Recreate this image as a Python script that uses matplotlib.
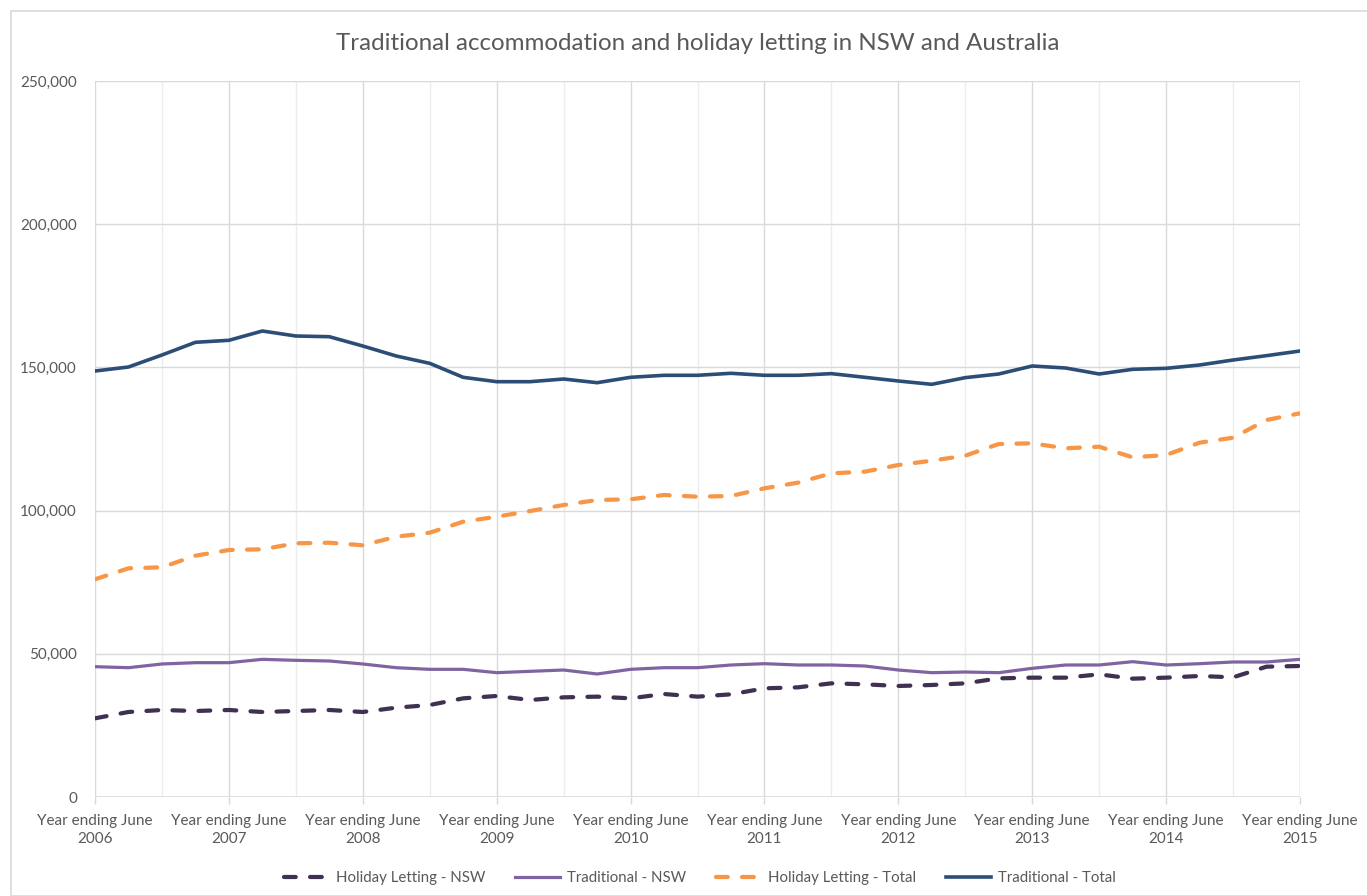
import matplotlib
matplotlib.use("Agg")
import matplotlib.pyplot as plt
from matplotlib.patches import Rectangle
from matplotlib.ticker import FuncFormatter, MultipleLocator
import numpy as np

plt.rcParams['font.family'] = ['Lato', 'DejaVu Sans']

years = ['2006', '2007', '2008', '2009', '2010', '2011', '2012', '2013', '2014', '2015']

holiday_nsw = [27470, 29680, 30380, 30030, 30380, 29680, 30030, 30380, 29680, 31190,
               32120, 34450, 35270, 33870, 34800, 35040, 34450, 35960, 35040, 35850,
               37940, 38290, 39690, 39340, 38760, 39110, 39690, 41430, 41670, 41670,
               42830, 41320, 41670, 42250, 41790, 45500, 45740]

traditional_nsw = [45500, 45150, 46440, 46900, 46900, 48070, 47720, 47490, 46440, 45150,
                   44580, 44580, 43410, 43880, 44340, 42950, 44580, 45150, 45150, 46090,
                   46550, 46090, 46090, 45740, 44340, 43410, 43640, 43410, 44930, 46090,
                   46090, 47250, 46090, 46550, 47140, 47140, 48070]

holiday_total = [76010, 79850, 80200, 84250, 86240, 86480, 88580, 88790, 87880, 90890,
                 92280, 96130, 97870, 99860, 101950, 103700, 103940, 105450, 104860, 105100,
                 107780, 109750, 113010, 113590, 115920, 117430, 119180, 123250, 123490, 121750,
                 122310, 118600, 119410, 123710, 125460, 131630, 133970]

traditional_total = [148740, 150140, 154330, 158760, 159460, 162710, 160960, 160720, 157470, 153980,
                     151420, 146540, 145010, 145010, 145950, 144660, 146540, 147240, 147240, 147940,
                     147240, 147240, 147820, 146540, 145250, 144090, 146420, 147700, 150490, 149790,
                     147700, 149330, 149680, 150840, 152580, 154100, 155730]

series_names = ['Holiday Letting - NSW', 'Traditional - NSW', 'Holiday Letting - Total', 'Traditional - Total']

W, H = 1367, 896
fig = plt.figure(figsize=(W / 100, H / 100), dpi=100)
fig.patch.set_facecolor('white')

# chart border
fig.patches.append(Rectangle((11 / W, 0), 1.2, 1 - 11 / H, transform=fig.transFigure,
                             fill=False, edgecolor='#d9d9d9', linewidth=1.2))

left, right, top, bottom = 95, 1300, 81, 797
ax = fig.add_axes([left / W, 1 - bottom / H, (right - left) / W, (bottom - top) / H])

x = np.arange(len(traditional_total))
px = 0.72  # points per pixel

ax.plot(x, holiday_nsw, color='#403152', lw=4.2 * px, dashes=(2.8, 3.4),
        dash_capstyle='round', label=series_names[0], zorder=3)
ax.plot(x, traditional_nsw, color='#8064A2', lw=3.2 * px, label=series_names[1], zorder=3,
        solid_joinstyle='round')
ax.plot(x, holiday_total, color='#F79646', lw=4.2 * px, dashes=(2.8, 3.4),
        dash_capstyle='round', label=series_names[2], zorder=3)
ax.plot(x, traditional_total, color='#2C4D75', lw=3.6 * px, label=series_names[3], zorder=3,
        solid_joinstyle='round')

ax.set_xlim(0, len(x) - 1)
ax.set_ylim(0, 250000)
ax.yaxis.set_major_locator(MultipleLocator(50000))
ax.yaxis.set_major_formatter(FuncFormatter(lambda v, p: '0' if v == 0 else f'{int(v):,}'))

major_pos = np.arange(0, len(x), 4)
ax.set_xticks(major_pos)
ax.set_xticklabels([f'Year ending June\n{y}' for y in years])
ax.set_xticks(np.arange(2, len(x), 4), minor=True)

for sp in ax.spines.values():
    sp.set_visible(False)

ax.grid(axis='y', which='major', color='#d9d9d9', lw=1.0)
ax.grid(axis='x', which='major', color='#d9d9d9', lw=1.0)
ax.grid(axis='x', which='minor', color='#ececec', lw=1.0)
ax.axvline(len(x) - 1, color='#d9d9d9', lw=1.0, zorder=1)
ax.axhline(0, color='#d9d9d9', lw=1.2, zorder=2)
ax.set_axisbelow(True)

ax.tick_params(axis='y', length=0, pad=13, labelsize=11, labelcolor='#595959')
ax.tick_params(axis='x', which='major', length=5, width=1, color='#d9d9d9', pad=7,
               labelsize=11, labelcolor='#595959')
ax.tick_params(axis='x', which='minor', length=0)
for lbl in ax.get_xticklabels():
    lbl.set_linespacing(1.35)

fig.text(0.5 * (95 + 1300) / W, 1 - 44 / H,
         'Traditional accommodation and holiday letting in NSW and Australia',
         ha='center', va='center', fontsize=17.4, color='#595959')

leg = fig.legend(loc='center', bbox_to_anchor=(700 / W, 1 - 878 / H), ncol=4, frameon=False,
                 fontsize=10.8, labelcolor='#595959', handlelength=3.0, handletextpad=0.45,
                 columnspacing=2.0)

fig.savefig('out.png', dpi=100, facecolor='white')
